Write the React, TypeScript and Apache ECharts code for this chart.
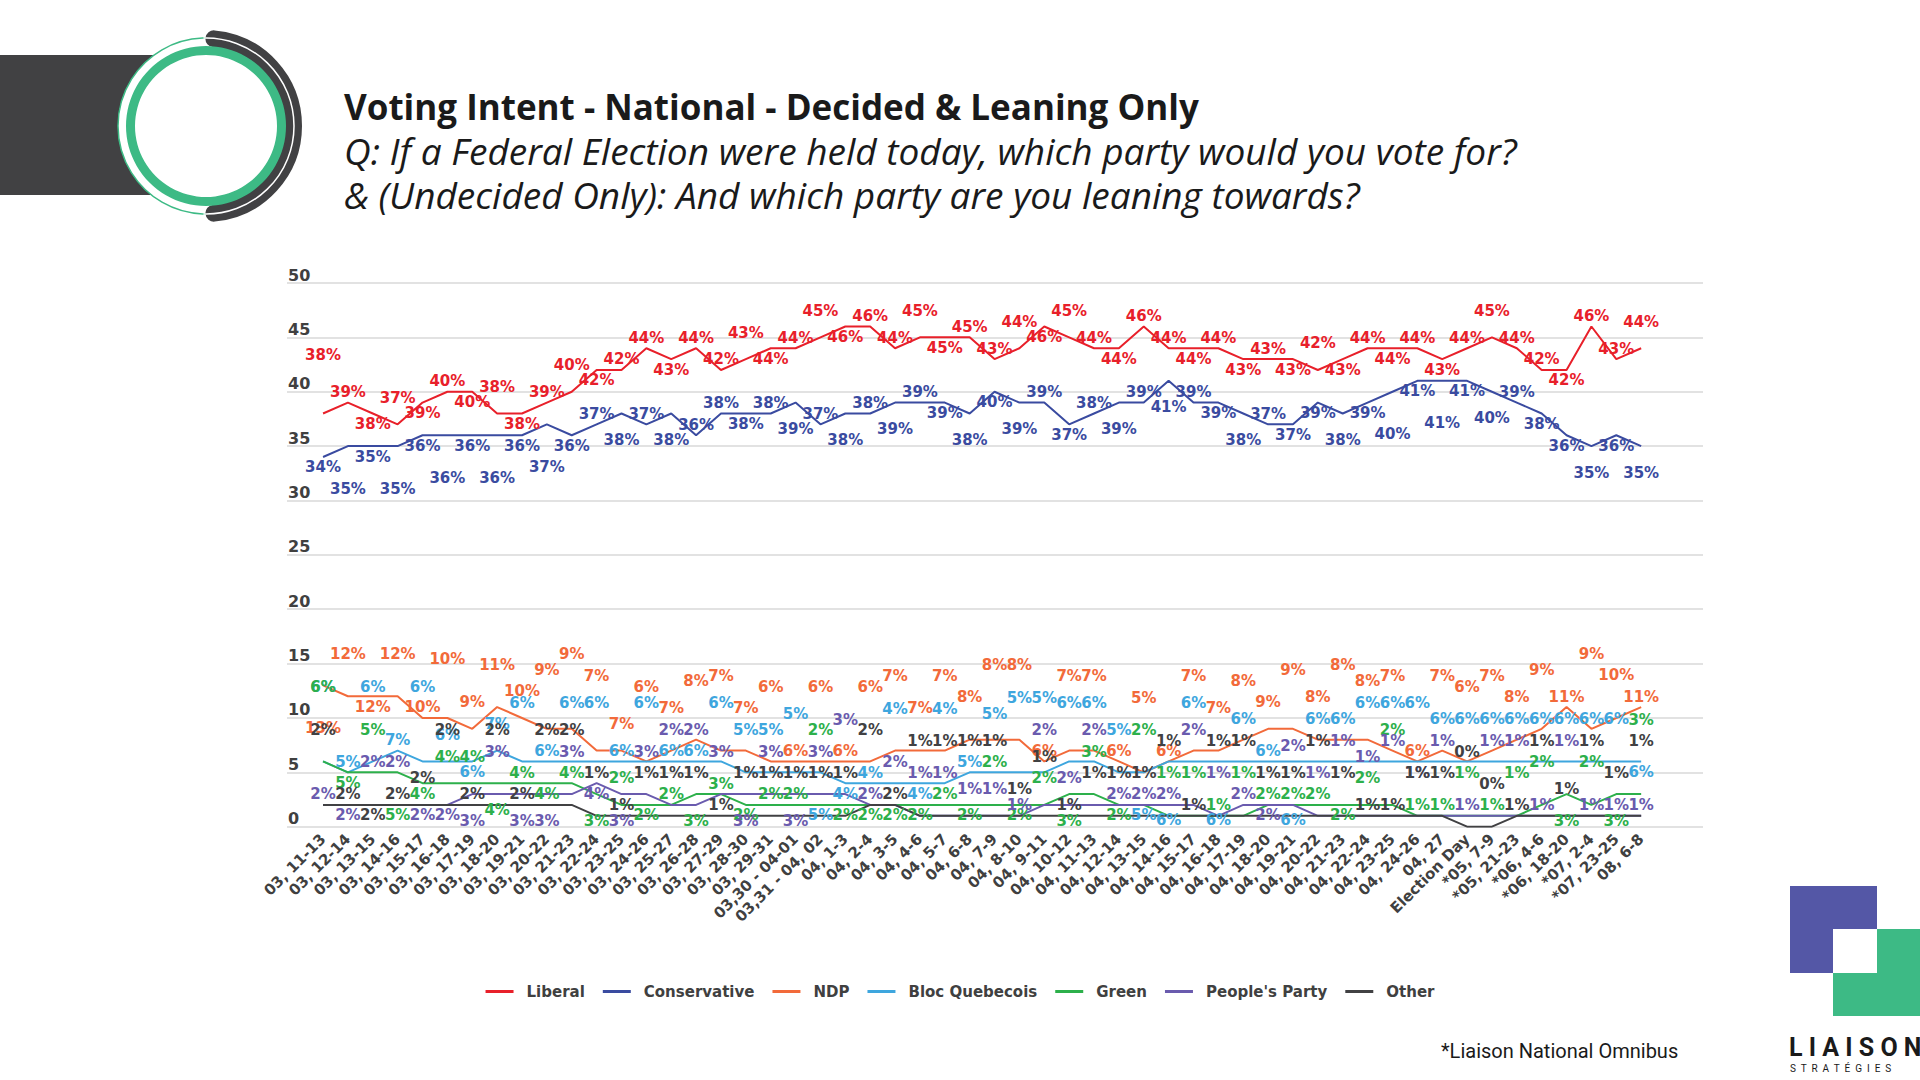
import React, { useEffect, useRef } from 'react'
import * as echarts from 'echarts'

const categories = [
  '03, 11-13', '03, 12-14', '03, 13-15', '03, 14-16', '03, 15-17', '03, 16-18', '03, 17-19',
  '03, 18-20', '03, 19-21', '03, 20-22', '03, 21-23', '03, 22-24', '03, 23-25', '03, 24-26',
  '03, 25-27', '03, 26-28', '03, 27-29', '03, 28-30', '03, 29-31', '03,30 - 04-01', '03,31 - 04, 02',
  '04, 1-3', '04, 2-4', '04, 3-5', '04, 4-6', '04, 5-7', '04, 6-8', '04, 7-9', '04, 8-10',
  '04, 9-11', '04, 10-12', '04, 11-13', '04, 12-14', '04, 13-15', '04, 14-16', '04, 15-17',
  '04, 16-18', '04, 17-19', '04, 18-20', '04, 19-21', '04, 20-22', '04, 21-23', '04, 22-24',
  '04, 23-25', '04, 24-26', '04, 27', 'Election Day', '*05, 7-9', '*05, 21-23', '*06, 4-6',
  '*06, 18-20', '*07, 2-4', '*07, 23-25', '08, 6-8',
]

const liberal = [
  38, 39, 38, 37, 39, 40, 40, 38, 38, 39, 40, 42, 42, 44, 43, 44, 42, 43, 44, 44,
  45, 46, 46, 44, 45, 45, 45, 43, 44, 46, 45, 44, 44, 46, 44, 44, 44, 43, 43, 43,
  42, 43, 44, 44, 44, 43, 44, 45, 44, 42, 42, 46, 43, 44,
]
const conservative = [
  34, 35, 35, 35, 36, 36, 36, 36, 36, 37, 36, 37, 38, 37, 38, 36, 38, 38, 38, 39,
  37, 38, 38, 39, 39, 39, 38, 40, 39, 39, 37, 38, 39, 39, 41, 39, 39, 38, 37, 37,
  39, 38, 39, 40, 41, 41, 41, 40, 39, 38, 36, 35, 36, 35,
]
const ndp = [
  13, 12, 12, 12, 10, 10, 9, 11, 10, 9, 9, 7, 7, 6, 7, 8, 7, 7, 6, 6,
  6, 6, 6, 7, 7, 7, 8, 8, 8, 6, 7, 7, 6, 5, 6, 7, 7, 8, 9, 9,
  8, 8, 8, 7, 6, 7, 6, 7, 8, 9, 11, 9, 10, 11,
]
const bloc = [
  6, 5, 6, 7, 6, 6, 6, 7, 6, 6, 6, 6, 6, 6, 6, 6, 6, 5, 5, 5,
  5, 4, 4, 4, 4, 4, 5, 5, 5, 5, 6, 6, 5, 5, 6, 6, 6, 6, 6, 6,
  6, 6, 6, 6, 6, 6, 6, 6, 6, 6, 6, 6, 6, 6,
]
const green = [
  6, 5, 5, 5, 4, 4, 4, 4, 4, 4, 4, 3, 2, 2, 2, 3, 3, 2, 2, 2,
  2, 2, 2, 2, 2, 2, 2, 2, 2, 2, 3, 3, 2, 2, 1, 1, 1, 1, 2, 2,
  2, 2, 2, 2, 1, 1, 1, 1, 1, 2, 3, 2, 3, 3,
]
const peoples = [
  2, 2, 2, 2, 2, 2, 3, 3, 3, 3, 3, 4, 3, 3, 2, 2, 3, 3, 3, 3,
  3, 3, 2, 2, 1, 1, 1, 1, 1, 2, 2, 2, 2, 2, 2, 2, 1, 2, 2, 2,
  1, 1, 1, 1, 1, 1, 1, 1, 1, 1, 1, 1, 1, 1,
]
const other = [
  2, 2, 2, 2, 2, 2, 2, 2, 2, 2, 2, 1, 1, 1, 1, 1, 1, 1, 1, 1,
  1, 1, 2, 2, 1, 1, 1, 1, 1, 1, 1, 1, 1, 1, 1, 1, 1, 1, 1, 1,
  1, 1, 1, 1, 1, 1, 0, 0, 1, 1, 1, 1, 1, 1,
]
const yTicks = [0, 5, 10, 15, 20, 25, 30, 35, 40, 45, 50]

const parties = [
  { name: 'Liberal', values: liberal, color: '#E8202A', up: true },
  { name: 'Conservative', values: conservative, color: '#3A4BA0', up: false },
  { name: 'NDP', values: ndp, color: '#F26A3A', up: true },
  { name: 'Bloc Quebecois', values: bloc, color: '#3EA6DE', up: false },
  { name: 'Green', values: green, color: '#2DB04B', up: true },
  { name: "People's Party", values: peoples, color: '#6A5BAE', up: false },
  { name: 'Other', values: other, color: '#414143', up: false },
]

const LABEL_FONT = '"DejaVu Sans", Roboto, sans-serif'
const HEAD_FONT = '"Open Sans", Roboto, sans-serif'
const LABEL_SIZE = 15

// plot area (grid 0 holds the series, grid 1 only the wider gridlines)
const PLOT = { left: 310.6, right: 266.4, top: 283, bottom: 253.3 }
const BACK = { left: 287, right: 217 }
const W = 1920
const H = 1080

type Cand = { position: string; distance: number; rank: number; box: number[] }

const overlap = (a: number[], b: number[]) => {
  const ox = Math.min(a[0] + a[2], b[0] + b[2]) - Math.max(a[0], b[0])
  const oy = Math.min(a[1] + a[3], b[1] + b[3]) - Math.max(a[1], b[1])
  return ox > 0 && oy > 0 ? 300 + ox * oy : 0
}

// places the data labels above or below their points so that they collide as little as possible
const placeLabels = () => {
  const n = categories.length
  const step = (W - PLOT.left - PLOT.right) / n
  const plotH = H - PLOT.top - PLOT.bottom
  const px = (k: number) => PLOT.left + step * (k + 0.5)
  const py = (v: number) => PLOT.top + plotH * (1 - v / 50)
  const h = LABEL_SIZE + 4
  const textW = (v: number) => (String(v).length * 0.696 + 1.0) * LABEL_SIZE + 4
  const dists = [3, 19, 35, 51, 67]
  const floor = H - PLOT.bottom + 6

  const fixed = yTicks.map((t) => [BACK.left, py(t) - 21, 27, 21])

  const items = parties.flatMap((p, s) => {
    // labels of the lower group stay in the band under 17 %
    const ceiling = Math.max(...p.values) < 20 ? py(17) : PLOT.top - 12
    return p.values.map((v, k) => {
      const x = px(k)
      const y = py(v)
      const w = textW(v)
      const cands: Cand[] = []
      dists.forEach((d, i) => {
        ;[p.up ? 'top' : 'bottom', p.up ? 'bottom' : 'top'].forEach((pos, j) => {
          const by = pos === 'top' ? y - d - h : y + d
          cands.push({ position: pos, distance: d, rank: i * 2 + j, box: [x - w / 2, by, w, h] })
        })
      })
      // static cost of each candidate: preference, bounds, axis labels and line points
      const base = cands.map((c) => {
        const b = c.box
        let cost = c.rank * 14
        if (b[1] < ceiling || b[1] + b[3] > floor) cost += 1e6
        fixed.forEach((f) => (cost += overlap(b, f) * 4))
        parties.forEach((q) => {
          for (let j = Math.max(0, k - 1); j <= Math.min(n - 1, k + 1); j++) {
            const qx = px(j)
            const qy = py(q.values[j])
            if (qx > b[0] && qx < b[0] + b[2] && qy > b[1] && qy < b[1] + b[3]) cost += 40
          }
        })
        return cost
      })
      return { s, k, cands, base, choice: -1 }
    })
  })

  const evaluate = (i: number, c: number) => {
    const box = items[i].cands[c].box
    let cost = items[i].base[c]
    items.forEach((o, j) => {
      if (j === i || o.choice < 0) return
      const b = o.cands[o.choice].box
      if (Math.abs(b[0] - box[0]) > 60) return
      cost += overlap(box, b)
    })
    return cost
  }

  const pick = (i: number) => {
    let best = 0
    let bestCost = Infinity
    items[i].cands.forEach((_, c) => {
      const cost = evaluate(i, c)
      if (cost < bestCost) {
        bestCost = cost
        best = c
      }
    })
    items[i].choice = best
  }

  items.forEach((_, i) => pick(i))
  for (let pass = 0; pass < 12; pass++) items.forEach((_, i) => pick(i))

  return parties.map((p, s) =>
    p.values.map((_, k) => {
      const it = items[s * n + k]
      const c = it.cands[it.choice]
      return { position: c.position, distance: c.distance }
    })
  )
}

const App = () => {
  const chartRef = useRef<HTMLDivElement>(null)

  useEffect(() => {
    if (!chartRef.current) return
    const chart = echarts.init(chartRef.current, null, { renderer: 'svg' })

    const cx = 206
    const cy = 126
    const placements = placeLabels()

    const option = {
      animation: false,
      backgroundColor: '#ffffff',
      graphic: [
        // top-left badge
        { type: 'rect', shape: { x: 0, y: 55, width: 206, height: 140 }, style: { fill: '#414143' } },
        { type: 'circle', shape: { cx, cy, r: 88 }, style: { fill: '#ffffff', stroke: '#3DBA85', lineWidth: 1.5 } },
        {
          type: 'arc',
          shape: { cx, cy, r: 87.5, startAngle: -1.48, endAngle: 1.48, clockwise: true },
          style: { stroke: '#414143', lineWidth: 17, lineCap: 'round', fill: null },
        },
        {
          type: 'arc',
          shape: { cx, cy, r: 88, startAngle: -1.6, endAngle: 1.6, clockwise: true },
          style: { stroke: '#ffffff', lineWidth: 1.5, fill: null },
        },
        { type: 'ring', shape: { cx, cy, r: 80, r0: 71 }, style: { fill: '#3DBA85' } },
        // headings
        {
          type: 'text',
          style: {
            text: 'Voting Intent - National - Decided & Leaning Only',
            x: 344, y: 106, verticalAlign: 'middle',
            fontFamily: HEAD_FONT, fontWeight: 'bold', fontSize: 35, fill: '#1a1a1a',
          },
        },
        {
          type: 'text',
          style: {
            text: 'Q: If a Federal Election were held today, which party would you vote for?',
            x: 344, y: 150, verticalAlign: 'middle',
            fontFamily: HEAD_FONT, fontStyle: 'italic', fontSize: 37, fill: '#1a1a1a',
          },
        },
        {
          type: 'text',
          style: {
            text: '& (Undecided Only): And which party are you leaning towards?',
            x: 344, y: 194, verticalAlign: 'middle',
            fontFamily: HEAD_FONT, fontStyle: 'italic', fontSize: 37, fill: '#1a1a1a',
          },
        },
        // footnote
        {
          type: 'text',
          style: {
            text: '*Liaison National Omnibus',
            x: 1441, y: 1051, verticalAlign: 'middle',
            fontFamily: 'Roboto, sans-serif', fontSize: 20, fill: '#1a1a1a',
          },
        },
        // bottom-right logo
        { type: 'rect', shape: { x: 1790, y: 886, width: 87, height: 87 }, style: { fill: '#5457A6' } },
        { type: 'rect', shape: { x: 1833, y: 929, width: 87, height: 87 }, style: { fill: '#3DBA85' } },
        { type: 'rect', shape: { x: 1833, y: 929, width: 44, height: 44 }, style: { fill: '#ffffff' } },
        {
          type: 'text',
          style: {
            text: 'L I A I S O N', x: 1789, y: 1047, verticalAlign: 'middle',
            fontFamily: 'Roboto, sans-serif', fontWeight: 'bold', fontSize: 25, fill: '#1a1a1a',
          },
        },
        {
          type: 'text',
          style: {
            text: 'S  T  R  A  T  É  G  I  E  S', x: 1790, y: 1068, verticalAlign: 'middle',
            fontFamily: 'Roboto, sans-serif', fontSize: 10, fill: '#1a1a1a',
          },
        },
      ],
      legend: {
        left: 'center',
        top: 979,
        icon: 'rect',
        itemWidth: 28,
        itemHeight: 3,
        itemGap: 18,
        textStyle: { fontFamily: LABEL_FONT, fontWeight: 'bold', fontSize: 15, color: '#404040', padding: [0, 0, 0, 8] },
        data: parties.map((p) => p.name),
      },
      grid: [
        { ...PLOT },
        { left: BACK.left, right: BACK.right, top: PLOT.top, bottom: PLOT.bottom },
      ],
      xAxis: [
        {
          type: 'category',
          gridIndex: 0,
          data: categories,
          boundaryGap: true,
          axisLine: { show: false },
          axisTick: { show: false },
          axisLabel: {
            interval: 0,
            rotate: 45,
            margin: 10,
            fontFamily: LABEL_FONT,
            fontWeight: 'bold',
            fontSize: 15,
            color: '#404040',
          },
        },
        { type: 'value', gridIndex: 1, show: false, min: 0, max: 1 },
      ],
      yAxis: [
        { type: 'value', gridIndex: 0, min: 0, max: 50, interval: 5, show: false },
        {
          type: 'value',
          gridIndex: 1,
          min: 0,
          max: 50,
          interval: 5,
          axisLine: { show: false },
          axisTick: { show: false },
          splitLine: { lineStyle: { color: '#d9d9d9', width: 1.5 } },
          axisLabel: {
            inside: true,
            margin: 1,
            verticalAlign: 'bottom',
            fontFamily: LABEL_FONT,
            fontWeight: 'bold',
            fontSize: 16,
            color: '#404040',
          },
        },
      ],
      series: parties.map((p, s) => ({
        name: p.name,
        type: 'line',
        xAxisIndex: 0,
        yAxisIndex: 0,
        symbol: 'circle',
        symbolSize: 0,
        showSymbol: true,
        color: p.color,
        lineStyle: { color: p.color, width: 2 },
        label: {
          show: true,
          formatter: '{c}%',
          fontFamily: LABEL_FONT,
          fontWeight: 'bold',
          fontSize: LABEL_SIZE,
          color: p.color,
        },
        labelLayout: { hideOverlap: false },
        data: p.values.map((v, i) => ({
          value: v,
          label: placements[s][i],
        })),
      })),
    }

    chart.setOption(option)
    return () => {
      chart.dispose()
    }
  }, [])

  return (
    <div
      ref={chartRef}
      style={{ position: 'fixed', left: 0, top: 0, width: W, height: H, background: '#fff' }}
    />
  )
}

export default App
